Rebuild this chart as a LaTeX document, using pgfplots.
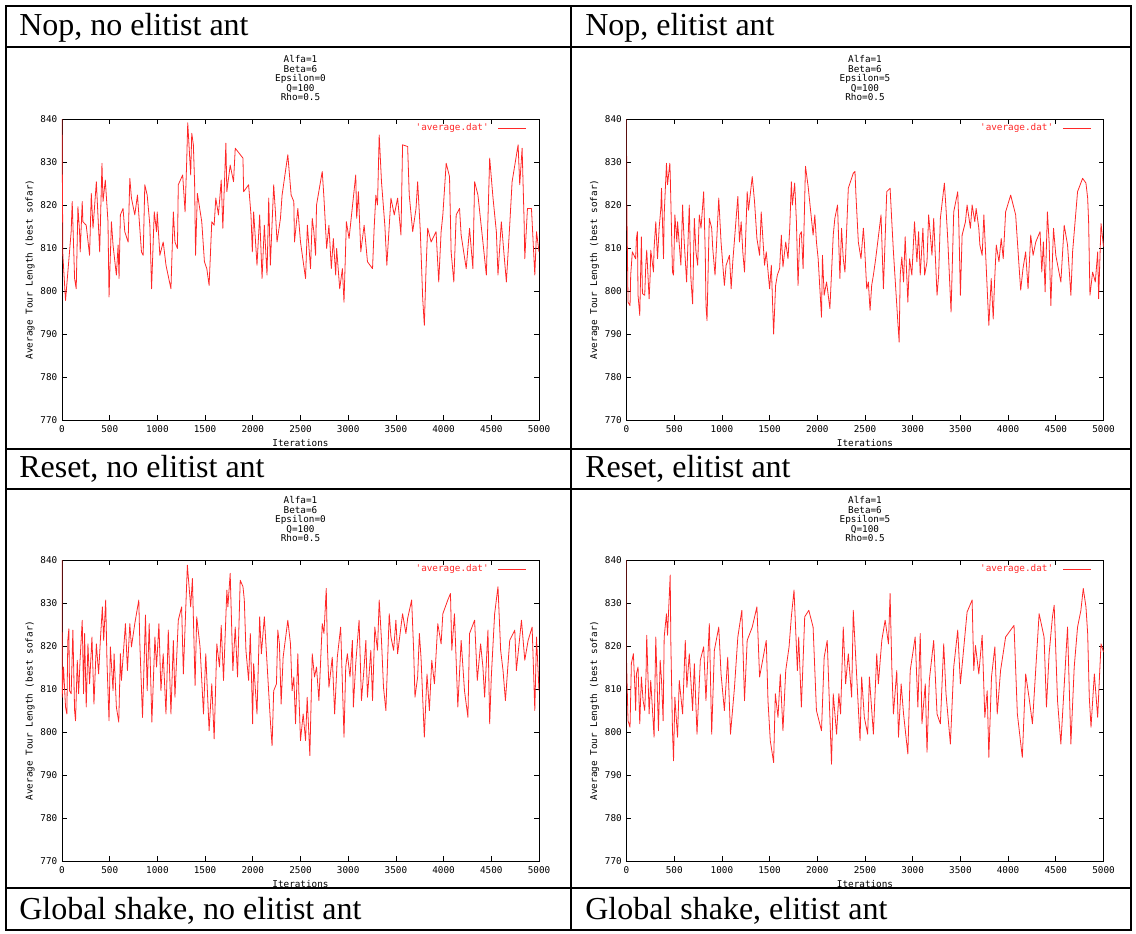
\documentclass[border=0pt]{standalone}
\usepackage{fontspec}
\setmainfont{Liberation Serif}
\newfontfamily\gnu{DejaVu Sans Mono}
\usepackage{pgfplots}
\pgfplotsset{compat=1.18}
\newcommand{\gpfont}{\gnu\fontsize{7}{7.1}\selectfont}
\definecolor{gpred}{RGB}{255,40,40}
\pgfplotsset{
  gp/.style={
    scale only axis, width=357.75pt, height=225.75pt,
    xmin=0, xmax=5000, ymin=770, ymax=840,
    xtick={0,500,...,5000}, ytick={770,780,...,840},
    tick align=inside, major tick length=3.5pt,
    every tick/.style={black, line width=0.5pt},
    axis line style={black, line width=0.7pt},
    ticklabel style={font=\gpfont},
    /pgf/number format/assume math mode=true,
    /pgf/number format/1000 sep={},
    xticklabel style={yshift=-1pt},
    xlabel={Iterations}, ylabel={Average Tour Length (best sofar)},
    every axis x label/.style={at={(axis description cs:0.5,-0.078)},anchor=center,font=\gpfont},
    every axis y label/.style={at={(axis description cs:-0.067,0.5)},rotate=90,anchor=center,font=\gpfont},
    title style={font=\gpfont, align=center, at={(axis description cs:0.5,1.109)}, anchor=center},
    legend style={font=\gpfont, text=gpred, draw=none, fill=none, at={(axis description cs:0.975,0.97)}, anchor=east, inner sep=0pt, /tikz/column sep=5pt},
    legend plot pos=right,
    legend image code/.code={\draw[gpred,line width=0.6pt] (0pt,0pt) -- (21pt,0pt);},
  },
  gpline/.style={sharp plot, gpred, line width=0.6pt, no marks, line join=round},
}
\begin{document}
\begin{tikzpicture}
\useasboundingbox (0,0) rectangle (852pt,699.75pt);
\begin{scope}[x=0.75pt,y=-0.75pt,shift={(0pt,699.75pt)}]
% table frame
\draw[line width=1.8pt] (6,6) rectangle (1131,930);
\draw[line width=1.8pt] (6,47) -- (1131,47);
\draw[line width=1.8pt] (6,449) -- (1131,449);
\draw[line width=1.8pt] (6,489) -- (1131,489);
\draw[line width=1.8pt] (6,888) -- (1131,888);
\draw[line width=1.8pt] (571,6) -- (571,930);
\begin{scope}[every node/.style={anchor=base west, inner sep=0pt, font=\fontsize{24}{24}\selectfont}]
\node at (19,36) {Nop, no elitist ant};
\node at (585,36) {Nop, elitist ant};
\node at (19,478) {Reset, no elitist ant};
\node at (585,478) {Reset, elitist ant};
\node at (19,919) {Global shake, no elitist ant};
\node at (585,919) {Global shake, elitist ant};
\end{scope}
\end{scope}

% Plot 1: Nop, no elitist
\begin{axis}[gp, at={(46.5pt,384.75pt)}, anchor=south west,
  title={Alfa=1\\Beta=6\\Epsilon=0\\Q=100\\Rho=0.5}]
\addplot[gpline] coordinates {(0,840) (9,808.3) (37,797.8) (96,813.8) (107,820.8) (132,802.9) (149,800.5) (167,819.6) (184,813.8) (191,809.1) (212,820.8) (219,816.1) (254,815.3) (289,808.3) (307,822.7) (325,814.6) (360,825.4) (395,809.1) (419,829.7) (430,820.8) (454,825.8) (482,816.1) (493,798.6) (507,808.3) (518,816.1) (535,810.7) (570,803.7) (588,810.7) (598,802.9) (612,817.7) (640,819.2) (658,813.8) (693,811.4) (711,826.2) (728,821.6) (763,817.7) (791,822.3) (833,809.1) (851,808.3) (868,824.7) (893,822.3) (921,815.3) (939,800.5) (967,818.4) (991,813.8) (998,818.4) (1026,808.3) (1061,811.4) (1090,806.0) (1142,800.5) (1167,818.4) (1184,811.4) (1210,809.9) (1219,824.7) (1265,827.0) (1290,818.4) (1307,830.1) (1318,839.1) (1349,827.0) (1360,836.7) (1377,834.0) (1390,825.1) (1400,808.3) (1419,822.7) (1465,816.1) (1493,806.8) (1518,805.2) (1542,801.3) (1570,816.1) (1595,815.3) (1612,821.6) (1640,817.7) (1669,825.8) (1686,814.6) (1718,834.4) (1728,823.1) (1763,829.3) (1798,825.4) (1816,833.2) (1897,830.9) (1904,823.1) (1956,824.7) (1981,817.7) (1995,809.1) (2009,818.4) (2044,806.0) (2072,817.7) (2097,802.9) (2121,815.3) (2149,803.7) (2167,821.6) (2184,806.0) (2219,824.7) (2237,818.4) (2254,811.4) (2290,816.9) (2307,822.3) (2367,831.7) (2402,822.3) (2430,820.8) (2437,811.4) (2472,819.2) (2500,811.4) (2553,802.9) (2572,815.3) (2605,805.2) (2623,816.9) (2640,813.8) (2658,808.3) (2668,820.0) (2728,827.8) (2746,821.6) (2774,809.9) (2798,815.3) (2823,805.2) (2844,812.2) (2869,803.7) (2879,809.9) (2911,800.5) (2939,805.2) (2956,797.4) (2981,816.1) (3009,812.2) (3079,827.0) (3089,816.9) (3107,823.1) (3132,809.1) (3167,815.3) (3202,806.8) (3255,805.2) (3272,814.6) (3290,822.3) (3307,820.0) (3325,836.3) (3349,825.4) (3384,815.3) (3405,806.0) (3448,821.6) (3483,817.7) (3518,821.6) (3553,813.0) (3570,834.0) (3623,833.6) (3640,822.3) (3676,813.8) (3711,819.2) (3728,825.4) (3756,813.8) (3781,798.2) (3798,792.0) (3816,805.2) (3833,814.6) (3869,811.4) (3921,813.8) (3949,802.1) (3974,813.8) (3992,817.7) (4027,829.7) (4062,826.6) (4079,809.1) (4107,802.1) (4132,817.7) (4167,819.2) (4184,813.0) (4237,805.2) (4272,814.6) (4307,805.2) (4325,825.4) (4360,822.3) (4412,811.4) (4448,803.7) (4483,830.9) (4518,821.6) (4553,813.8) (4570,803.7) (4605,816.1) (4640,806.8) (4658,802.1) (4693,815.3) (4718,825.4) (4781,834.0) (4798,824.7) (4823,833.2) (4844,816.1) (4851,807.5) (4879,819.2) (4921,819.2) (4956,803.7) (4974,813.8) (5000,809.1)};
\addlegendentry{\textquotesingle average.dat\textquotesingle}
\end{axis}

% Plot 2: Nop, elitist
\begin{axis}[gp, at={(469.875pt,384.75pt)}, anchor=south west,
  title={Alfa=1\\Beta=6\\Epsilon=5\\Q=100\\Rho=0.5}]
\addplot[gpline] coordinates {(0,840) (2,822.7) (16,797.4) (37,796.6) (44,803.7) (61,809.1) (96,807.5) (104,812.2) (114,813.8) (121,799.0) (139,794.3) (156,812.6) (167,799.4) (191,799.0) (202,806.0) (212,809.5) (237,798.2) (247,802.9) (254,809.5) (283,804.4) (289,809.9) (307,816.1) (325,807.5) (342,814.6) (360,819.2) (367,823.9) (388,807.5) (395,817.7) (419,829.7) (430,824.7) (454,829.7) (458,827.4) (482,804.4) (493,803.7) (507,817.7) (528,811.4) (535,816.1) (570,806.0) (588,820.0) (598,814.6) (605,811.4) (630,802.1) (658,820.0) (675,802.9) (693,797.0) (711,816.9) (728,809.1) (746,806.0) (763,817.7) (781,814.6) (809,823.1) (826,808.3) (833,796.6) (844,793.1) (868,816.9) (893,814.6) (904,809.9) (928,803.7) (967,821.6) (991,811.4) (1026,801.3) (1044,806.0) (1079,808.3) (1097,800.5) (1114,806.8) (1167,822.0) (1184,811.4) (1202,816.1) (1219,809.1) (1237,804.4) (1265,823.1) (1279,818.8) (1318,826.6) (1342,820.8) (1367,812.2) (1395,808.3) (1412,818.4) (1447,806.0) (1465,809.1) (1500,800.5) (1518,806.0) (1542,790.0) (1563,801.3) (1581,803.7) (1605,805.2) (1623,813.0) (1640,805.6) (1669,811.4) (1693,807.5) (1711,814.6) (1728,825.4) (1739,820.0) (1763,825.1) (1781,816.1) (1798,801.3) (1816,813.0) (1833,813.8) (1851,805.2) (1876,829.0) (1904,824.3) (1956,813.0) (1974,817.7) (1991,811.4) (2009,807.5) (2044,793.9) (2054,808.3) (2072,799.0) (2097,802.1) (2132,795.9) (2167,813.0) (2184,816.9) (2212,820.0) (2237,802.9) (2254,814.6) (2272,807.5) (2290,804.4) (2325,823.9) (2377,827.4) (2395,827.8) (2405,822.3) (2430,811.4) (2458,807.5) (2483,814.6) (2493,811.4) (2518,800.5) (2535,802.1) (2553,795.5) (2570,801.3) (2588,803.7) (2612,807.5) (2668,817.7) (2693,800.5) (2728,823.1) (2763,823.9) (2781,816.1) (2798,809.1) (2844,792.8) (2858,788.1) (2869,803.7) (2886,807.9) (2904,802.1) (2921,812.6) (2949,797.4) (2967,807.5) (2991,803.7) (3019,816.1) (3044,806.8) (3062,813.8) (3079,803.7) (3107,814.6) (3125,803.7) (3150,806.8) (3167,817.7) (3185,813.0) (3202,808.3) (3220,816.9) (3255,799.0) (3272,803.7) (3290,816.9) (3332,825.1) (3349,819.2) (3367,812.2) (3402,795.1) (3430,818.4) (3472,823.1) (3483,816.1) (3500,799.0) (3518,813.0) (3553,816.1) (3570,820.0) (3605,814.6) (3623,820.0) (3651,816.1) (3665,819.2) (3693,814.6) (3704,810.7) (3728,808.3) (3746,817.7) (3798,792.0) (3823,802.9) (3844,793.5) (3858,802.1) (3876,810.7) (3904,806.8) (3928,812.2) (3949,807.5) (3974,818.4) (4027,822.3) (4062,819.2) (4079,817.7) (4114,806.0) (4132,800.2) (4156,805.2) (4184,809.1) (4209,800.5) (4237,813.0) (4262,808.3) (4290,811.4) (4335,813.8) (4353,804.4) (4370,811.4) (4388,799.8) (4412,818.4) (4430,811.4) (4448,796.6) (4476,814.6) (4500,808.3) (4553,802.1) (4588,815.3) (4623,810.7) (4658,799.0) (4676,809.1) (4728,823.1) (4781,826.2) (4816,825.1) (4834,821.6) (4844,816.1) (4858,799.0) (4886,804.4) (4914,802.1) (4939,809.1) (4949,798.2) (4974,815.7) (5000,810.3)};
\addlegendentry{\textquotesingle average.dat\textquotesingle}
\end{axis}

% Plot 3: Reset, no elitist
\begin{axis}[gp, at={(46.5pt,54pt)}, anchor=south west,
  title={Alfa=1\\Beta=6\\Epsilon=0\\Q=100\\Rho=0.5}]
\addplot[gpline] coordinates {(0,840) (2,808.1) (16,815.1) (37,805.8) (51,804.2) (61,821.3) (72,824.0) (79,809.6) (96,808.9) (114,823.7) (132,805.0) (142,802.6) (160,816.7) (174,808.9) (191,817.4) (212,826.0) (226,808.9) (237,822.9) (254,805.8) (272,820.5) (289,811.2) (314,822.1) (335,806.5) (360,820.5) (384,813.5) (402,821.3) (423,829.1) (437,821.3) (458,830.7) (472,815.9) (493,802.6) (507,819.8) (535,809.6) (546,818.2) (570,805.8) (595,802.3) (612,818.2) (623,812.0) (665,825.2) (686,814.3) (711,825.2) (728,819.8) (763,825.2) (805,830.7) (816,820.5) (844,803.4) (875,827.2) (893,809.6) (914,825.2) (942,802.3) (974,822.1) (991,815.1) (1016,825.2) (1037,809.6) (1061,818.2) (1090,804.2) (1114,823.7) (1142,804.2) (1167,821.3) (1184,808.1) (1219,826.0) (1254,829.1) (1272,813.5) (1314,838.8) (1349,829.1) (1367,835.7) (1384,820.5) (1395,810.8) (1412,826.8) (1447,819.8) (1483,804.2) (1507,818.2) (1542,800.3) (1570,811.2) (1595,798.4) (1623,820.5) (1651,815.1) (1669,824.8) (1693,812.0) (1728,833.0) (1739,829.1) (1763,836.9) (1791,814.3) (1816,824.4) (1840,812.8) (1868,835.3) (1897,833.8) (1911,830.7) (1928,819.0) (1956,812.0) (1974,822.9) (1991,808.9) (1998,801.9) (2009,815.9) (2044,804.2) (2072,826.8) (2090,818.2) (2121,826.8) (2184,802.6) (2202,796.8) (2219,809.6) (2248,811.2) (2262,823.7) (2279,820.5) (2297,806.5) (2318,817.4) (2367,826.0) (2395,820.5) (2412,809.6) (2430,812.8) (2448,801.9) (2472,818.2) (2483,808.9) (2500,798.0) (2528,804.2) (2553,798.0) (2570,808.1) (2598,794.5) (2623,818.2) (2647,812.8) (2668,815.1) (2693,807.3) (2728,825.2) (2746,822.9) (2770,833.4) (2781,820.5) (2798,810.4) (2833,817.4) (2858,804.2) (2886,817.4) (2921,824.4) (2956,798.8) (2974,815.1) (2991,818.2) (3019,812.8) (3044,821.3) (3054,805.8) (3079,815.9) (3114,826.0) (3139,807.3) (3167,815.1) (3185,821.3) (3202,808.1) (3237,819.0) (3255,807.3) (3279,824.4) (3307,819.0) (3325,830.7) (3349,821.3) (3370,810.4) (3395,805.0) (3430,827.5) (3448,822.1) (3476,819.0) (3500,826.0) (3518,818.2) (3535,821.3) (3570,827.5) (3605,822.9) (3623,826.4) (3665,830.7) (3686,819.0) (3700,808.1) (3728,812.8) (3746,822.9) (3763,817.4) (3798,798.8) (3826,813.5) (3851,805.0) (3876,816.7) (3904,811.2) (3939,825.2) (3974,820.5) (3992,827.5) (4044,830.7) (4072,832.2) (4086,819.0) (4114,827.5) (4149,805.8) (4184,821.3) (4219,809.6) (4255,803.4) (4272,822.9) (4325,826.0) (4353,812.0) (4388,820.5) (4412,815.1) (4430,808.1) (4465,823.7) (4483,801.9) (4500,812.8) (4535,827.5) (4570,833.8) (4598,819.0) (4623,814.3) (4648,807.3) (4693,821.3) (4746,823.7) (4763,814.3) (4816,826.0) (4851,816.7) (4886,821.3) (4928,824.4) (4956,805.0) (4974,822.1) (5000,809.6)};
\addlegendentry{\textquotesingle average.dat\textquotesingle}
\end{axis}

% Plot 4: Reset, elitist
\begin{axis}[gp, at={(469.875pt,54pt)}, anchor=south west,
  title={Alfa=1\\Beta=6\\Epsilon=5\\Q=100\\Rho=0.5}]
\addplot[gpline] coordinates {(0,840) (1,815.9) (16,802.6) (37,801.1) (51,815.9) (72,818.2) (89,809.6) (96,805.0) (104,813.5) (121,815.1) (139,801.9) (156,812.8) (174,807.3) (191,805.0) (205,813.5) (212,822.5) (237,804.2) (254,812.0) (289,798.8) (307,822.1) (335,800.3) (353,816.7) (367,812.0) (384,802.6) (395,822.1) (419,827.5) (430,822.5) (458,836.5) (465,820.5) (482,800.3) (493,793.3) (507,808.1) (535,798.8) (553,812.0) (588,804.2) (616,821.3) (633,810.4) (658,818.2) (693,805.0) (711,815.9) (739,799.5) (774,816.7) (809,819.8) (833,807.3) (868,825.2) (893,799.5) (921,819.0) (967,824.4) (991,813.5) (1026,805.0) (1061,817.4) (1090,799.5) (1132,810.4) (1167,822.1) (1209,828.3) (1237,807.3) (1265,821.3) (1318,824.4) (1367,829.1) (1395,812.8) (1465,821.3) (1483,807.3) (1507,798.0) (1542,792.9) (1560,808.9) (1588,803.4) (1612,813.5) (1640,800.3) (1669,814.3) (1704,819.8) (1728,826.8) (1756,833.0) (1791,814.3) (1805,822.1) (1833,805.8) (1868,826.8) (1911,828.3) (1956,824.4) (1991,805.0) (2044,800.3) (2072,817.4) (2104,821.3) (2149,792.5) (2167,808.9) (2202,799.5) (2226,808.9) (2244,804.2) (2272,824.4) (2297,811.2) (2325,818.2) (2360,808.1) (2377,828.3) (2448,798.0) (2465,812.8) (2493,803.4) (2528,799.5) (2546,812.8) (2588,799.5) (2623,818.2) (2640,811.2) (2676,821.3) (2711,826.0) (2746,820.5) (2763,832.2) (2781,815.1) (2798,804.2) (2833,814.3) (2851,798.8) (2879,811.2) (2904,804.2) (2949,794.9) (2974,814.3) (3026,822.1) (3054,805.8) (3079,822.9) (3097,801.9) (3132,811.2) (3150,795.3) (3174,812.0) (3220,821.3) (3255,804.2) (3290,801.9) (3325,820.5) (3349,808.9) (3395,797.2) (3430,815.1) (3472,823.7) (3500,811.2) (3570,827.9) (3623,830.7) (3640,814.3) (3658,820.1) (3693,813.5) (3728,822.5) (3756,803.4) (3781,809.6) (3798,794.1) (3826,812.8) (3861,819.8) (3886,804.2) (3921,814.3) (3974,822.1) (4062,824.8) (4097,804.2) (4149,794.1) (4184,813.5) (4219,808.1) (4255,801.9) (4325,827.5) (4377,822.1) (4402,805.8) (4430,818.2) (4465,826.8) (4483,829.5) (4518,807.3) (4553,797.2) (4623,824.4) (4658,797.2) (4693,815.1) (4728,824.4) (4763,828.3) (4788,833.4) (4816,829.1) (4834,822.9) (4851,808.1) (4869,801.1) (4904,813.5) (4939,803.4) (4956,812.0) (4974,820.5) (5000,818.6)};
\addlegendentry{\textquotesingle average.dat\textquotesingle}
\end{axis}
\end{tikzpicture}
\end{document}
